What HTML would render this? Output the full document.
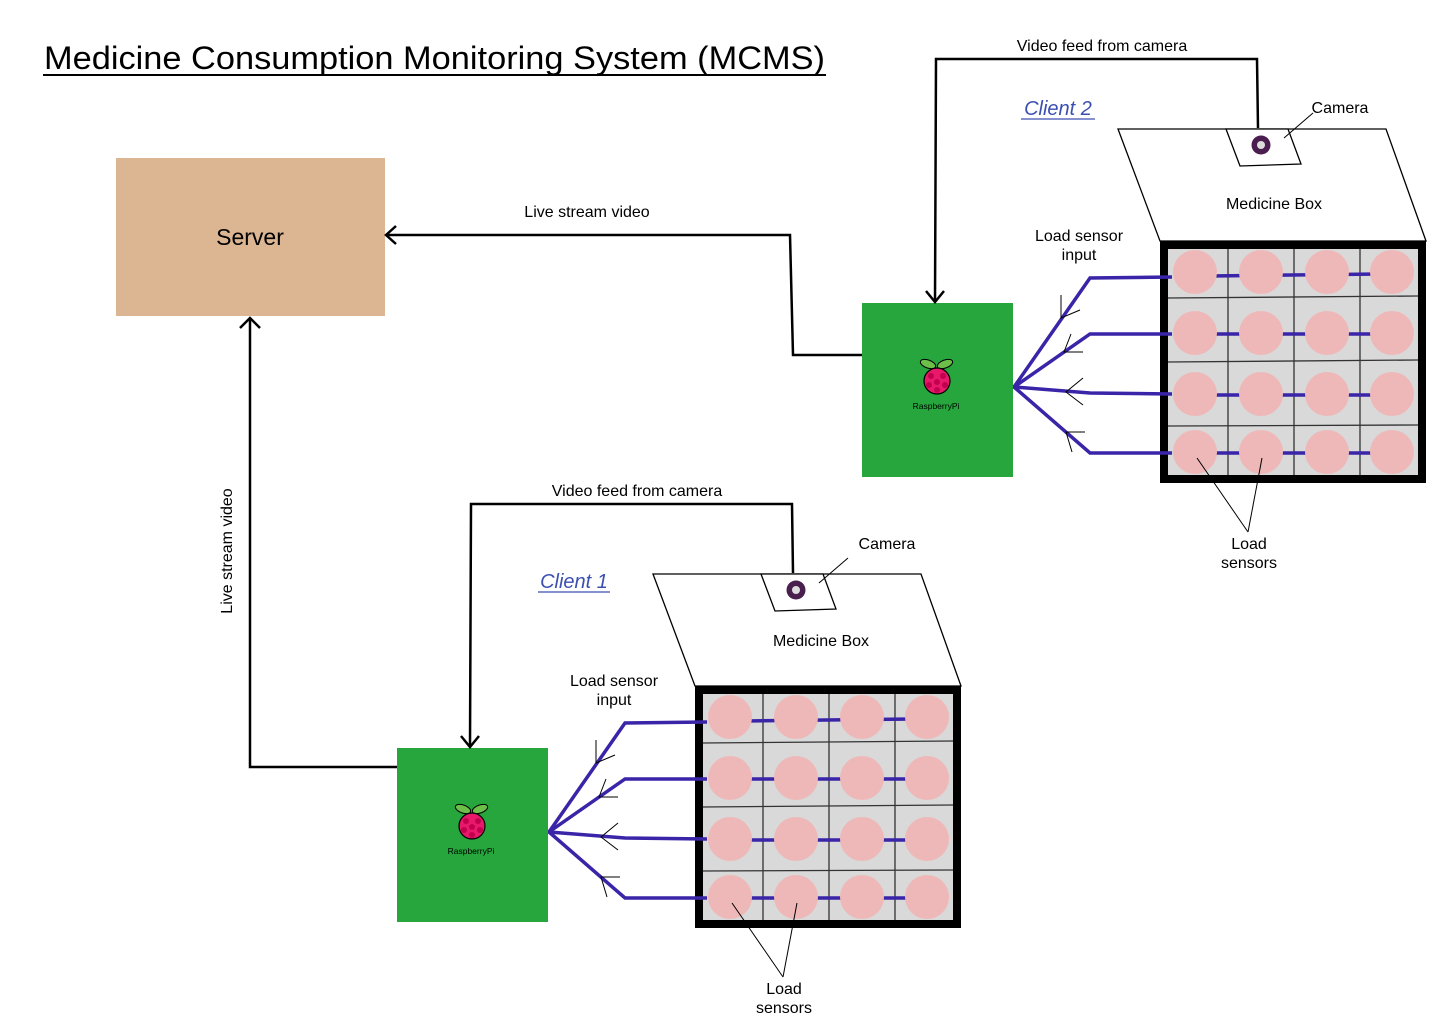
<!DOCTYPE html>
<html><head><meta charset="utf-8"><style>
html,body{margin:0;padding:0;background:#fff;}
svg{display:block;font-family:"Liberation Sans",sans-serif;}
</style></head><body>
<svg width="1440" height="1024" viewBox="0 0 1440 1024" xmlns="http://www.w3.org/2000/svg">
<defs>
<g id="client">
  <polygon points="1118,129 1386,129 1426,241 1160,241" fill="#fff" stroke="#000" stroke-width="1.3"/>
  <polygon points="1226,129 1288,129 1301,164 1240,166" fill="#fff" stroke="#000" stroke-width="1.3"/>
  <circle cx="1261" cy="145" r="9.5" fill="#4a1f4f"/>
  <circle cx="1261" cy="145" r="4" fill="#ddd"/>
  <rect x="1164" y="245" width="258" height="234" fill="#d9d9d9" stroke="#000" stroke-width="8"/>
  <g stroke="#333" stroke-width="1.3">
    <line x1="1228" y1="249" x2="1228" y2="475"/>
    <line x1="1294" y1="249" x2="1294" y2="475"/>
    <line x1="1360" y1="249" x2="1360" y2="475"/>
    <line x1="1168" y1="298" x2="1418" y2="296"/>
    <line x1="1168" y1="362" x2="1418" y2="360"/>
    <line x1="1168" y1="426" x2="1418" y2="425"/>
  </g>
  <g stroke="#3a24a8" stroke-width="3.5" fill="none">
    <line x1="1210" y1="276" x2="1380" y2="274"/>
    <line x1="1210" y1="334" x2="1380" y2="334"/>
    <line x1="1210" y1="395" x2="1380" y2="395"/>
    <line x1="1210" y1="453" x2="1380" y2="453"/>
    <polyline points="1172,277 1090,278 1014,387 1090,393 1172,394"/>
    <polyline points="1172,334 1090,334 1014,387 1090,453 1172,453"/>
  </g>
  <g fill="#efb8b8">
    <circle cx="1195" cy="272" r="22"/><circle cx="1261" cy="272" r="22"/><circle cx="1327" cy="272" r="22"/><circle cx="1392" cy="272" r="22"/>
    <circle cx="1195" cy="333" r="22"/><circle cx="1261" cy="333" r="22"/><circle cx="1327" cy="333" r="22"/><circle cx="1392" cy="333" r="22"/>
    <circle cx="1195" cy="394" r="22"/><circle cx="1261" cy="394" r="22"/><circle cx="1327" cy="394" r="22"/><circle cx="1392" cy="394" r="22"/>
    <circle cx="1195" cy="452" r="22"/><circle cx="1261" cy="452" r="22"/><circle cx="1327" cy="452" r="22"/><circle cx="1392" cy="452" r="22"/>
  </g>
  <g stroke="#000" stroke-width="1" fill="none">
    <polyline points="1061,295 1061,318 1080,310"/>
    <polyline points="1071,334 1064,352 1083,352"/>
    <polyline points="1083,378 1066,392 1083,405"/>
    <polyline points="1085,432 1066,432 1072,452"/>
    <line x1="1197" y1="458" x2="1248" y2="532"/>
    <line x1="1262" y1="458" x2="1248" y2="532"/>
    <line x1="1284" y1="138" x2="1313" y2="113"/>
  </g>
  <rect x="862" y="303" width="151" height="174" fill="#26a63d"/>
  <ellipse cx="928" cy="364" rx="8" ry="4" fill="#6cc04a" stroke="#000" stroke-width="1" transform="rotate(20 928 364)"/>
  <ellipse cx="945" cy="364" rx="8" ry="4" fill="#6cc04a" stroke="#000" stroke-width="1" transform="rotate(-20 945 364)"/>
  <circle cx="937" cy="381" r="13" fill="#e8196b" stroke="#000" stroke-width="1.2"/>
  <g fill="#c2004e"><circle cx="931" cy="376" r="3"/><circle cx="943" cy="376" r="3"/><circle cx="937" cy="382" r="3"/><circle cx="929" cy="385" r="3"/><circle cx="945" cy="385" r="3"/><circle cx="937" cy="390" r="3"/></g>
</g>
</defs>

<text x="44" y="69" font-size="32" textLength="781" lengthAdjust="spacingAndGlyphs" fill="#000">Medicine Consumption Monitoring System (MCMS)</text>
<line x1="43" y1="75" x2="826" y2="75" stroke="#000" stroke-width="2"/>

<rect x="116" y="158" width="269" height="158" fill="#dcb592"/>
<text x="250" y="245" font-size="23" text-anchor="middle" fill="#000">Server</text>

<use href="#client"/>
<use href="#client" transform="translate(-465,445)"/>

<g stroke="#000" stroke-width="2.5" fill="none">
  <polyline points="1258,128 1257,59 936,59 935,301"/>
  <polyline points="926,291 935,302 944,291"/>
  <polyline points="862,355 793,355 790,235 386,235"/>
  <polyline points="396,226 386,235 396,244"/>
  <polyline points="793,573 792,504 471,504 470,746"/>
  <polyline points="461,736 470,747 479,736"/>
  <polyline points="397,767 250,767 250,318"/>
  <polyline points="240,328 250,318 260,328"/>
</g>

<g font-size="16" fill="#000" text-anchor="middle">
  <text x="1102" y="51">Video feed from camera</text>
  <text x="637" y="496">Video feed from camera</text>
  <text x="587" y="217">Live stream video</text>
  <text transform="translate(232,551) rotate(-90)">Live stream video</text>
  <text x="1340" y="113">Camera</text>
  <text x="887" y="549">Camera</text>
  <text x="1274" y="209">Medicine Box</text>
  <text x="821" y="646">Medicine Box</text>
  <text x="1079" y="241">Load sensor</text>
  <text x="1079" y="260">input</text>
  <text x="614" y="686">Load sensor</text>
  <text x="614" y="705">input</text>
  <text x="1249" y="549">Load</text>
  <text x="1249" y="568">sensors</text>
  <text x="784" y="994">Load</text>
  <text x="784" y="1013">sensors</text>
</g>
<g font-size="8.5" fill="#000" text-anchor="middle">
  <text x="936" y="409">RaspberryPi</text>
  <text x="471" y="854">RaspberryPi</text>
</g>
<g font-size="20" font-style="italic" fill="#3b4fb0" text-anchor="middle">
  <text x="1058" y="115">Client 2</text>
  <text x="574" y="588">Client 1</text>
</g>
<line x1="1021" y1="119" x2="1095" y2="119" stroke="#3b4fb0" stroke-width="1.3"/>
<line x1="538" y1="592" x2="610" y2="592" stroke="#3b4fb0" stroke-width="1.3"/>
</svg>
</body></html>
